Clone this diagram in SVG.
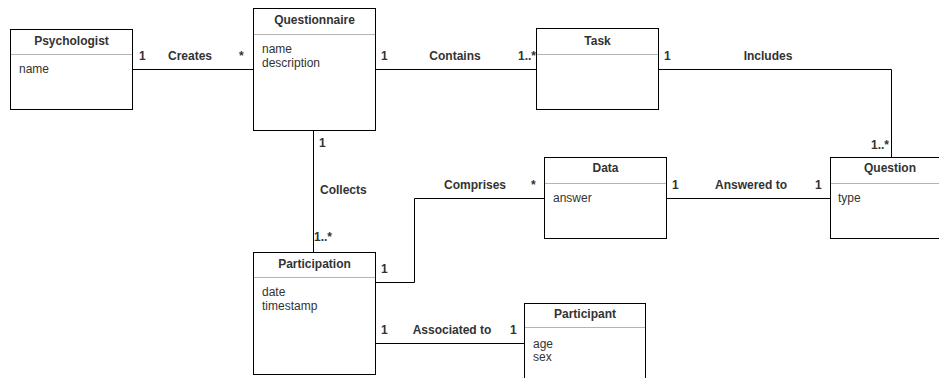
<svg xmlns="http://www.w3.org/2000/svg" width="939" height="378" viewBox="0 0 939 378">
<style>
.box{fill:#fff;stroke:#000;stroke-width:1}
.sep{stroke:#b3b3b3;stroke-width:1}
.title{font-family:"Liberation Sans",Arial,sans-serif;font-size:12px;font-weight:bold;fill:#333;text-anchor:middle}
.attr{font-family:"Liberation Sans",Arial,sans-serif;font-size:12px;fill:#333}
.lbl{font-family:"Liberation Sans",Arial,sans-serif;font-size:12px;font-weight:bold;fill:#333}
.mid{text-anchor:middle}
.end{text-anchor:end}
.edge{fill:none;stroke:#000;stroke-width:1}
</style>
<rect width="939" height="378" fill="#fff"/>
<g id="connectors">
<path class="edge" d="M132.5 69.5H253.5"/>
<path class="edge" d="M375.5 69.5H536.5"/>
<path class="edge" d="M658.5 69.5H891.5V157.5"/>
<path class="edge" d="M313.5 130.5V252.5"/>
<path class="edge" d="M375.5 282.5H414.5V198.5H544.5"/>
<path class="edge" d="M666.5 198.5H830.5"/>
<path class="edge" d="M375.5 343.5H524.5"/>
<text class="lbl" x="139" y="60">1</text>
<text class="lbl mid" x="190" y="60">Creates</text>
<text class="lbl" x="239" y="60">*</text>
<text class="lbl" x="381" y="60">1</text>
<text class="lbl mid" x="455" y="60">Contains</text>
<text class="lbl end" x="536" y="60">1..*</text>
<text class="lbl" x="664" y="60">1</text>
<text class="lbl mid" x="768" y="60">Includes</text>
<text class="lbl end" x="889" y="149">1..*</text>
<text class="lbl" x="319" y="147">1</text>
<text class="lbl" x="320" y="194">Collects</text>
<text class="lbl" x="314" y="241">1..*</text>
<text class="lbl" x="381" y="273">1</text>
<text class="lbl mid" x="475" y="189">Comprises</text>
<text class="lbl" x="531" y="189">*</text>
<text class="lbl" x="672" y="189">1</text>
<text class="lbl mid" x="751" y="189">Answered to</text>
<text class="lbl" x="815" y="189">1</text>
<text class="lbl" x="381" y="334">1</text>
<text class="lbl mid" x="452" y="334">Associated to</text>
<text class="lbl" x="510" y="334">1</text>
</g>
<g id="psychologist">
<rect class="box" x="10.5" y="29.5" width="122" height="80"/>
<line class="sep" x1="11" y1="54.5" x2="132" y2="54.5"/>
<text class="title" x="71.5" y="45">Psychologist</text>
<text class="attr" x="19" y="73">name</text>
</g>
<g id="questionnaire">
<rect class="box" x="253.5" y="8.5" width="122" height="122"/>
<line class="sep" x1="254" y1="34.5" x2="375" y2="34.5"/>
<text class="title" x="314.5" y="24">Questionnaire</text>
<text class="attr" x="262" y="53">name</text>
<text class="attr" x="262" y="67">description</text>
</g>
<g id="task">
<rect class="box" x="536.5" y="28.5" width="122" height="81"/>
<line class="sep" x1="537" y1="54.5" x2="658" y2="54.5"/>
<text class="title" x="597.5" y="45">Task</text>
</g>
<g id="data">
<rect class="box" x="544.5" y="157.5" width="122" height="81"/>
<line class="sep" x1="545" y1="183.5" x2="666" y2="183.5"/>
<text class="title" x="605.5" y="172">Data</text>
<text class="attr" x="553" y="202">answer</text>
</g>
<g id="question">
<rect class="box" x="830.5" y="157.5" width="120" height="81"/>
<line class="sep" x1="831" y1="183.5" x2="939" y2="183.5"/>
<text class="title" x="890" y="172">Question</text>
<text class="attr" x="838" y="202">type</text>
</g>
<g id="participation">
<rect class="box" x="253.5" y="252.5" width="122" height="122"/>
<line class="sep" x1="254" y1="277.5" x2="375" y2="277.5"/>
<text class="title" x="314.5" y="268">Participation</text>
<text class="attr" x="262" y="296">date</text>
<text class="attr" x="262" y="310">timestamp</text>
</g>
<g id="participant">
<rect class="box" x="524.5" y="303.5" width="121" height="100"/>
<line class="sep" x1="525" y1="327.5" x2="645" y2="327.5"/>
<text class="title" x="585" y="318">Participant</text>
<text class="attr" x="533" y="348">age</text>
<text class="attr" x="533" y="361">sex</text>
</g>
</svg>
